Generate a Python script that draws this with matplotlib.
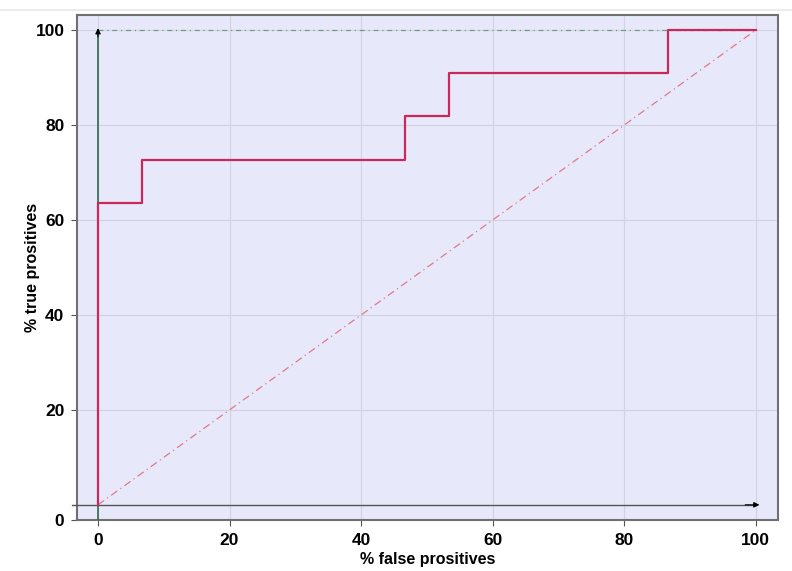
import matplotlib.pyplot as plt
from matplotlib.lines import Line2D

# ROC curve: 11 positives, 15 negatives
fpr = [0, 0, 6.67, 6.67, 46.67, 46.67, 53.33, 53.33, 86.67, 86.67, 100]
tpr = [0, 63.64, 63.64, 72.73, 72.73, 81.82, 81.82, 90.91, 90.91, 100, 100]

x_ticks = [0, 20, 40, 60, 80, 100]
y_ticks = [20, 40, 60, 80, 100]
xlim = (-3.2, 103.4)
ylim = (-3.2, 103.2)

plt.rcParams['font.family'] = ['Liberation Sans', 'DejaVu Sans']

fig = plt.figure(figsize=(7.92, 5.71), dpi=100)
ax = fig.add_axes([0.0972, 0.0893, 0.8851, 0.8844])
ax.set_facecolor('#E8E8FB')

# light band at top of the page
fig.add_artist(Line2D([0, 1], [0.982, 0.982], color='#EBEBEB', lw=1.5))

ax.set_xlim(*xlim)
ax.set_ylim(*ylim)

ax.grid(True, color='#D2D2E2', lw=0.8)
ax.set_axisbelow(True)

# random-guess diagonal
ax.plot([0, 100], [0, 100], color='#E07A8A', lw=0.9, ls='-.', dashes=(6, 3, 1, 3))
# perfect classifier top line
ax.plot([0, 100], [100, 100], color='#6F9F7F', lw=0.9, ls='-.', dashes=(4, 3, 1, 3))

# axes arrows
ax.plot([0, 0], [ylim[0], 100], color='#2E6B4A', lw=1.2, zorder=3)
ax.annotate('', xy=(0, 101), xytext=(0, 98),
            arrowprops=dict(arrowstyle='-|>', color='black', lw=0.8, mutation_scale=8))
ax.plot([-4, 100], [0, 0], color='#555555', lw=1.0, clip_on=False, zorder=3)
ax.annotate('', xy=(101, 0), xytext=(98, 0),
            arrowprops=dict(arrowstyle='-|>', color='black', lw=0.8, mutation_scale=8))

# ROC step curve
ax.plot(fpr, tpr, color='#C8285A', lw=1.6, zorder=4)

ax.set_xticks(x_ticks)
ax.set_xticklabels([str(t) for t in x_ticks])
ax.set_yticks([ylim[0]] + y_ticks)
ax.set_yticklabels(['0'] + [str(t) for t in y_ticks])

for lab in ax.get_xticklabels() + ax.get_yticklabels():
    lab.set_fontweight('bold')
    lab.set_fontsize(12.5)
ax.tick_params(length=4, color='#555555', pad=5)

for s in ax.spines.values():
    s.set_color('#707070')
    s.set_linewidth(1.5)

ax.set_xlabel('% false prositives', fontsize=11.5, fontweight='bold', labelpad=3)
ax.set_ylabel('% true prositives', fontsize=11.5, fontweight='bold', labelpad=-3)

plt.savefig('out.png')
